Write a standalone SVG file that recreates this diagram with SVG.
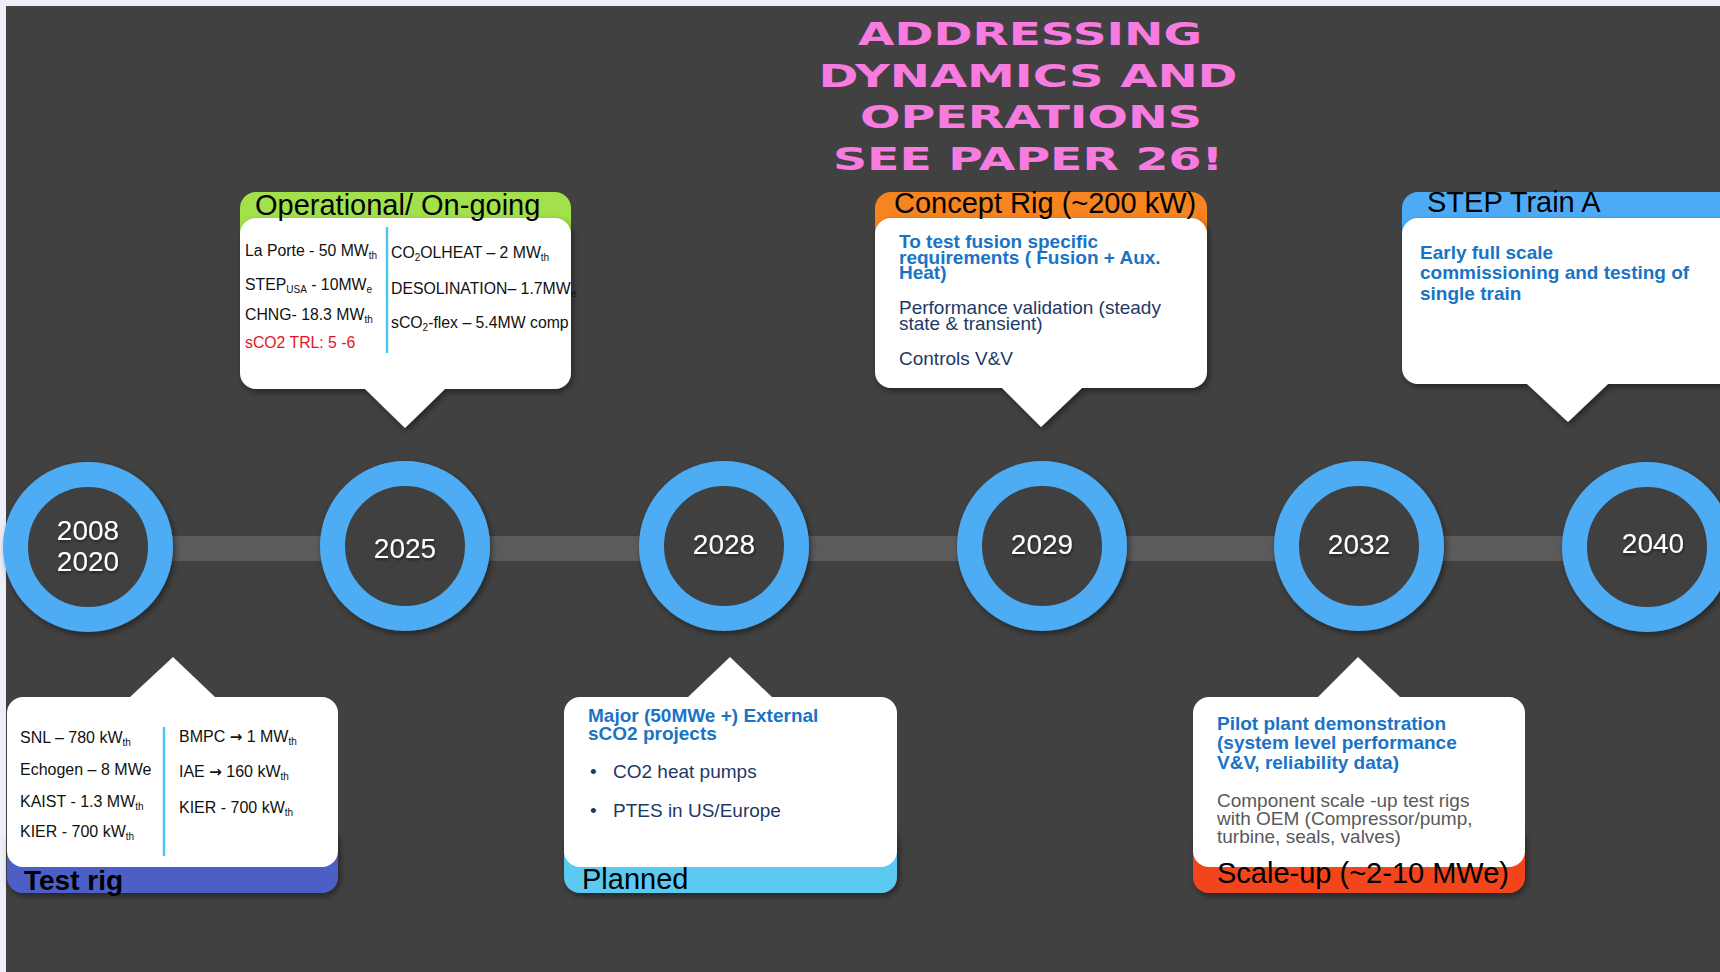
<svg xmlns="http://www.w3.org/2000/svg" width="1720" height="972" viewBox="0 0 1720 972">
<defs>
<filter id="sh" x="-20%" y="-20%" width="140%" height="140%">
<feDropShadow dx="2" dy="3" stdDeviation="3" flood-color="#000" flood-opacity="0.45"/>
</filter>
<filter id="tsh" x="-20%" y="-20%" width="140%" height="140%">
<feDropShadow dx="1" dy="2" stdDeviation="1.5" flood-color="#000" flood-opacity="0.5"/>
</filter>
</defs>
<style>
text{font-family:"Liberation Sans",Arial,sans-serif;}
.ring{fill:#414141;stroke:#4dacf3;stroke-width:25;}
.yr{fill:#fff;font-size:28px;text-anchor:middle;}
.hdr{fill:#000;font-size:29px;}
.box{fill:#fff;}
.t15{font-size:15.8px;fill:#111;}
.t16{font-size:16px;fill:#111;}
.sub{font-size:10px;}
.arr{font-family:"DejaVu Sans",sans-serif;font-weight:bold;font-size:15px;}
.bb{font-size:19px;font-weight:bold;fill:#1a73c5;}
.nv{font-size:19px;fill:#1f3864;}
.gy{font-size:19px;fill:#595959;}
.ttl{font-family:"DejaVu Sans",sans-serif;font-weight:bold;font-size:32px;fill:#f87ce0;text-anchor:middle;}
.div{stroke:#4fc3f7;stroke-width:2.5;}
</style>
<rect x="0" y="0" width="1720" height="972" fill="#eeeef8"/>
<rect x="6" y="6" width="1714" height="966" fill="#414141"/>

<g id="title">
<text class="ttl" x="1030" y="45" textLength="344" lengthAdjust="spacingAndGlyphs">ADDRESSING</text>
<text class="ttl" x="1028" y="87" textLength="419" lengthAdjust="spacingAndGlyphs">DYNAMICS AND</text>
<text class="ttl" x="1031" y="128" textLength="342" lengthAdjust="spacingAndGlyphs">OPERATIONS</text>
<text class="ttl" x="1028" y="170" textLength="390" lengthAdjust="spacingAndGlyphs">SEE PAPER 26!</text>
</g>

<g id="connectors">
<rect x="150" y="536" width="1430" height="25" fill="#5b5b5b"/>
</g>

<g id="y2008" filter="url(#sh)">
<circle class="ring" cx="88" cy="547" r="72.5"/>
<text class="yr" x="88" y="540" filter="url(#tsh)">2008</text>
<text class="yr" x="88" y="571" filter="url(#tsh)">2020</text>
</g>
<g id="y2025" filter="url(#sh)">
<circle class="ring" cx="405" cy="546" r="72.5"/>
<text class="yr" x="405" y="558" filter="url(#tsh)">2025</text>
</g>
<g id="y2028" filter="url(#sh)">
<circle class="ring" cx="724" cy="546" r="72.5"/>
<text class="yr" x="724" y="554" filter="url(#tsh)">2028</text>
</g>
<g id="y2029" filter="url(#sh)">
<circle class="ring" cx="1042" cy="546" r="72.5"/>
<text class="yr" x="1042" y="554" filter="url(#tsh)">2029</text>
</g>
<g id="y2032" filter="url(#sh)">
<circle class="ring" cx="1359" cy="546" r="72.5"/>
<text class="yr" x="1359" y="554" filter="url(#tsh)">2032</text>
</g>
<g id="y2040" filter="url(#sh)">
<circle class="ring" cx="1647" cy="547" r="72.5"/>
<text class="yr" x="1653" y="553" filter="url(#tsh)">2040</text>
</g>

<g id="operational">
<rect x="240" y="192" width="331" height="70" rx="16" fill="#a2e04c"/>
<path class="box" filter="url(#sh)" d="M256,218 H555 A16,16 0 0 1 571,234 V373 A16,16 0 0 1 555,389 H445 L405,428 L365,389 H256 A16,16 0 0 1 240,373 V234 A16,16 0 0 1 256,218 Z"/>
<text class="hdr" x="255" y="215">Operational/ On-going</text>
<text class="t15" x="245" y="256">La Porte - 50 MW<tspan class="sub" dy="3">th</tspan></text>
<text class="t15" x="245" y="290">STEP<tspan class="sub" dy="3">USA</tspan><tspan dy="-3"> - 10MW</tspan><tspan class="sub" dy="3">e</tspan></text>
<text class="t15" x="245" y="320">CHNG- 18.3 MW<tspan class="sub" dy="3">th</tspan></text>
<text class="t15" x="245" y="348" style="fill:#e0161e">sCO2 TRL: 5 -6</text>
<line class="div" x1="387" y1="227" x2="387" y2="353"/>
<text class="t15" x="391" y="258">CO<tspan class="sub" dy="3">2</tspan><tspan dy="-3">OLHEAT – 2 MW</tspan><tspan class="sub" dy="3">th</tspan></text>
<text class="t15" x="391" y="294">DESOLINATION– 1.7MW<tspan class="sub" dy="3">e</tspan></text>
<text class="t15" x="391" y="328">sCO<tspan class="sub" dy="3">2</tspan><tspan dy="-3">-flex – 5.4MW comp</tspan></text>
</g>

<g id="concept">
<rect x="875" y="192" width="332" height="70" rx="16" fill="#f6841f"/>
<path class="box" filter="url(#sh)" d="M891,218 H1191 A16,16 0 0 1 1207,234 V372 A16,16 0 0 1 1191,388 H1082 L1041,427 L1002,388 H891 A16,16 0 0 1 875,372 V234 A16,16 0 0 1 891,218 Z"/>
<text class="hdr" x="894" y="213">Concept Rig (~200 kW)</text>
<text class="bb" x="899" y="248">To test fusion specific</text>
<text class="bb" x="899" y="264">requirements ( Fusion + Aux.</text>
<text class="bb" x="899" y="279">Heat)</text>
<text class="nv" x="899" y="314">Performance validation (steady</text>
<text class="nv" x="899" y="330">state &amp; transient)</text>
<text class="nv" x="899" y="365">Controls V&amp;V</text>
</g>

<g id="steptrain">
<rect x="1402" y="192" width="400" height="70" rx="16" fill="#4dabf5"/>
<path class="box" filter="url(#sh)" d="M1418,218 H1786 A16,16 0 0 1 1802,234 V368 A16,16 0 0 1 1786,384 H1608 L1568,422 L1527,384 H1418 A16,16 0 0 1 1402,368 V234 A16,16 0 0 1 1418,218 Z"/>
<text class="hdr" x="1427" y="212">STEP Train A</text>
<text class="bb" x="1420" y="259">Early full scale</text>
<text class="bb" x="1420" y="279">commissioning and testing of</text>
<text class="bb" x="1420" y="300">single train</text>
</g>

<g id="testrig">
<rect x="7" y="825" width="331" height="68" rx="16" fill="#4c5fc7" filter="url(#sh)"/>
<path class="box" d="M23,697 H130 L173,657 L215,697 H322 A16,16 0 0 1 338,713 V851 A16,16 0 0 1 322,867 H23 A16,16 0 0 1 7,851 V713 A16,16 0 0 1 23,697 Z"/>
<text class="t16" x="20" y="743">SNL – 780 kW<tspan class="sub" dy="3">th</tspan></text>
<text class="t16" x="20" y="775">Echogen – 8 MWe</text>
<text class="t16" x="20" y="807">KAIST - 1.3 MW<tspan class="sub" dy="3">th</tspan></text>
<text class="t16" x="20" y="837">KIER - 700 kW<tspan class="sub" dy="3">th</tspan></text>
<line class="div" x1="164" y1="727" x2="164" y2="856"/>
<text class="t16" x="179" y="742">BMPC <tspan class="arr">→</tspan> 1 MW<tspan class="sub" dy="3">th</tspan></text>
<text class="t16" x="179" y="777">IAE <tspan class="arr">→</tspan> 160 kW<tspan class="sub" dy="3">th</tspan></text>
<text class="t16" x="179" y="813">KIER - 700 kW<tspan class="sub" dy="3">th</tspan></text>
<text x="24" y="890" style="font-size:28px;font-weight:bold;fill:#000">Test rig</text>
</g>

<g id="planned">
<rect x="564" y="825" width="333" height="68" rx="16" fill="#5cc9f1" filter="url(#sh)"/>
<path class="box" d="M580,697 H688 L730,657 L772,697 H881 A16,16 0 0 1 897,713 V851 A16,16 0 0 1 881,867 H580 A16,16 0 0 1 564,851 V713 A16,16 0 0 1 580,697 Z"/>
<text class="bb" x="588" y="722">Major (50MWe +) External</text>
<text class="bb" x="588" y="740">sCO2 projects</text>
<text class="nv" x="590" y="778">•</text>
<text class="nv" x="613" y="778">CO2 heat pumps</text>
<text class="nv" x="590" y="817">•</text>
<text class="nv" x="613" y="817">PTES in US/Europe</text>
<text class="hdr" x="582" y="889">Planned</text>
</g>

<g id="scaleup">
<rect x="1193" y="825" width="332" height="68" rx="16" fill="#f2441f" filter="url(#sh)"/>
<path class="box" d="M1209,697 H1318 L1358,657 L1400,697 H1509 A16,16 0 0 1 1525,713 V851 A16,16 0 0 1 1509,867 H1209 A16,16 0 0 1 1193,851 V713 A16,16 0 0 1 1209,697 Z"/>
<text class="bb" x="1217" y="730">Pilot plant demonstration</text>
<text class="bb" x="1217" y="749">(system level performance</text>
<text class="bb" x="1217" y="769">V&amp;V, reliability data)</text>
<text class="gy" x="1217" y="807">Component scale -up test rigs</text>
<text class="gy" x="1217" y="825">with OEM (Compressor/pump,</text>
<text class="gy" x="1217" y="843">turbine, seals, valves)</text>
<text class="hdr" x="1217" y="883">Scale-up (~2-10 MWe)</text>
</g>
</svg>
